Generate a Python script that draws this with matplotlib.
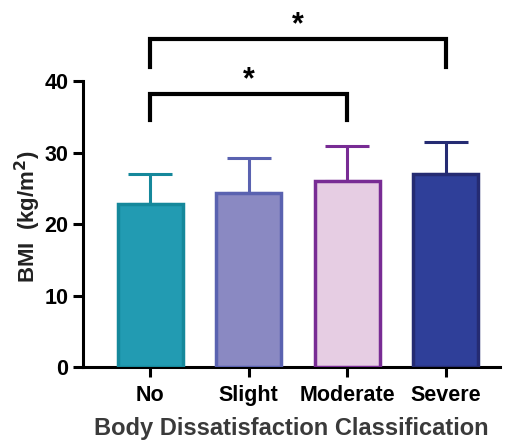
import matplotlib.pyplot as plt
import numpy as np

plt.rcParams['font.family'] = ['Liberation Sans', 'DejaVu Sans']
plt.rcParams['font.weight'] = 'bold'

categories = ["No", "Slight", "Moderate", "Severe"]
means = [22.8, 24.4, 26.0, 27.1]
sds = [4.3, 4.9, 5.0, 4.4]
face_colors = ["#229BB2", "#8A89C2", "#E6CDE3", "#2F3F99"]
edge_colors = ["#15889B", "#5A62B0", "#782C94", "#252B72"]

# significance brackets: (start idx, end idx, bar height, leg bottom)
brackets = [(0, 2, 38.2, 34.6), (0, 3, 46.0, 42.0)]

fig = plt.figure(figsize=(5.1, 4.41), dpi=100)
ax = fig.add_axes([83 / 510, 1 - 367 / 441, (500 - 83) / 510, (367 - 10) / 441])

x = np.arange(len(categories))
ax.bar(x, means, width=0.66, color=face_colors, edgecolor=edge_colors,
       linewidth=2.5, zorder=3)
for xi, m, s, c in zip(x, means, sds, edge_colors):
    ax.errorbar(xi, m, yerr=[[0], [s]], color=c, capsize=16, capthick=2.2,
                elinewidth=2.2, zorder=2)

for i0, i1, h, low in brackets:
    ax.plot([x[i0], x[i0], x[i1], x[i1]], [low, h, h, low], color="black",
            lw=3, solid_joinstyle="miter", clip_on=False)
    ax.text((x[i0] + x[i1]) / 2, h - 0.2, "*", ha="center", va="bottom",
            fontsize=22, fontweight="bold")

ax.set_xlim(-0.68, 3.55)
ax.set_ylim(0, 50)
ax.set_yticks([0, 10, 20, 30, 40])
ax.spines["left"].set_bounds(0, 40)
ax.spines["top"].set_visible(False)
ax.spines["right"].set_visible(False)
for sp in ("left", "bottom"):
    ax.spines[sp].set_linewidth(2.2)
ax.tick_params(width=2.2, length=7, labelsize=15.5)
ax.tick_params(axis="x", pad=6)
ax.set_xticks(x)
ax.set_xticklabels(categories)
ax.set_ylabel("BMI  (kg/m$^\\mathbf{2}$)", fontsize=16, fontweight="bold",
              color="#222222")
ax.yaxis.set_label_coords(-0.095, 0.42)
ax.set_xlabel("Body Dissatisfaction Classification", fontsize=17,
              fontweight="bold", color="#3a3a3a")
ax.xaxis.set_label_coords(0.5, -0.14)

fig.savefig("out.png", dpi=100)
